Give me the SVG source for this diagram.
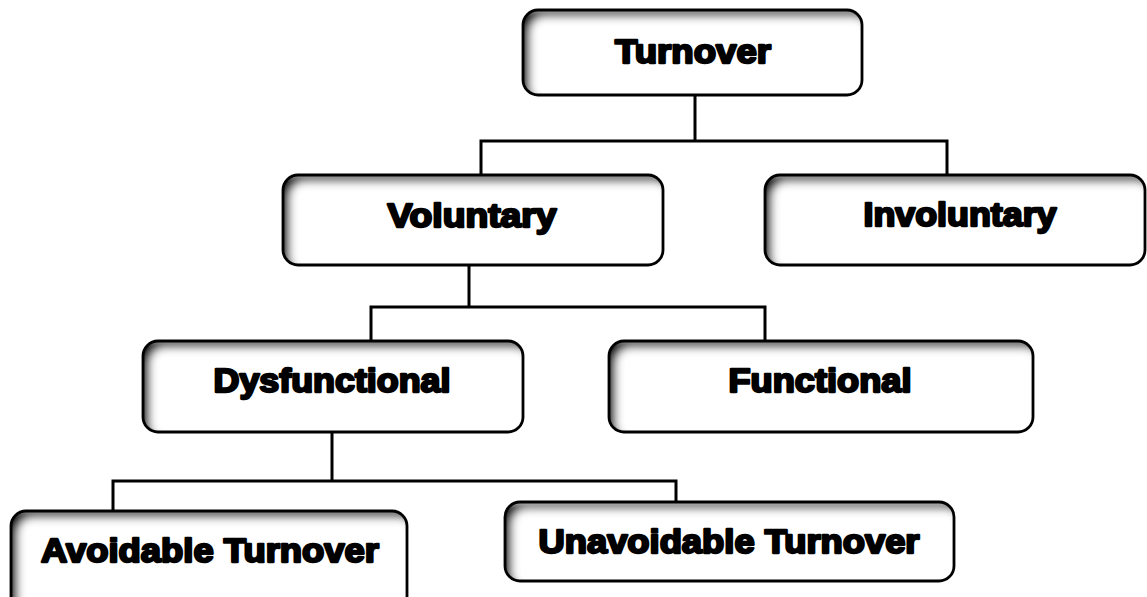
<svg xmlns="http://www.w3.org/2000/svg" width="1147" height="597" viewBox="0 0 1147 597">
<defs>
<filter id="inset" x="-5%" y="-10%" width="110%" height="120%">
<feFlood flood-color="#000" flood-opacity="1" result="f"/>
<feComposite in="f" in2="SourceAlpha" operator="out" result="o"/>
<feOffset in="o" dx="7" dy="7" result="off"/>
<feGaussianBlur in="off" stdDeviation="4.5" result="b"/>
<feComposite in="b" in2="SourceAlpha" operator="in" result="sh"/>
<feMerge><feMergeNode in="SourceGraphic"/><feMergeNode in="sh"/></feMerge>
</filter>
</defs>
<style>
.box{fill:#fff;filter:url(#inset)}
.edge{fill:none;stroke:#000;stroke-width:2.8}
.lbl{font-family:"Liberation Sans","Arial",sans-serif;font-weight:700;font-size:33px;fill:#000;stroke:#000;stroke-width:2.3;stroke-linejoin:round;text-anchor:middle}
.conn{fill:none;stroke:#000;stroke-width:3;stroke-linejoin:miter}
</style>
<g id="connectors">
<path class="conn" d="M695 95 V141 M481 175 V141 H947 V175"/>
<path class="conn" d="M469 265 V307 M371 341 V307 H765 V341"/>
<path class="conn" d="M332 432 V481 M113 511 V481 H676 V502"/>
</g>
<g id="turnover">
<rect class="box" x="523" y="10" width="339" height="85" rx="15"/>
<rect class="edge" x="523" y="10" width="339" height="85" rx="15"/>
<text class="lbl" x="693" y="63" textLength="156" lengthAdjust="spacingAndGlyphs">Turnover</text>
</g>
<g id="voluntary">
<rect class="box" x="283" y="175" width="380" height="90" rx="15"/>
<rect class="edge" x="283" y="175" width="380" height="90" rx="15"/>
<text class="lbl" x="472" y="227" textLength="169" lengthAdjust="spacingAndGlyphs">Voluntary</text>
</g>
<g id="involuntary">
<rect class="box" x="765" y="175" width="380" height="90" rx="15"/>
<rect class="edge" x="765" y="175" width="380" height="90" rx="15"/>
<text class="lbl" x="960" y="226" textLength="193" lengthAdjust="spacingAndGlyphs">Involuntary</text>
</g>
<g id="dysfunctional">
<rect class="box" x="143" y="341" width="380" height="91" rx="15"/>
<rect class="edge" x="143" y="341" width="380" height="91" rx="15"/>
<text class="lbl" x="332" y="392" textLength="237" lengthAdjust="spacingAndGlyphs">Dysfunctional</text>
</g>
<g id="functional">
<rect class="box" x="609" y="341" width="424" height="91" rx="15"/>
<rect class="edge" x="609" y="341" width="424" height="91" rx="15"/>
<text class="lbl" x="820" y="392" textLength="183" lengthAdjust="spacingAndGlyphs">Functional</text>
</g>
<g id="avoidable">
<rect class="box" x="11" y="511" width="396" height="100" rx="15"/>
<rect class="edge" x="11" y="511" width="396" height="100" rx="15"/>
<text class="lbl" x="210" y="562" textLength="338" lengthAdjust="spacingAndGlyphs">Avoidable Turnover</text>
</g>
<g id="unavoidable">
<rect class="box" x="505" y="502" width="449" height="79" rx="15"/>
<rect class="edge" x="505" y="502" width="449" height="79" rx="15"/>
<text class="lbl" x="729" y="553" textLength="381" lengthAdjust="spacingAndGlyphs">Unavoidable Turnover</text>
</g>
</svg>
